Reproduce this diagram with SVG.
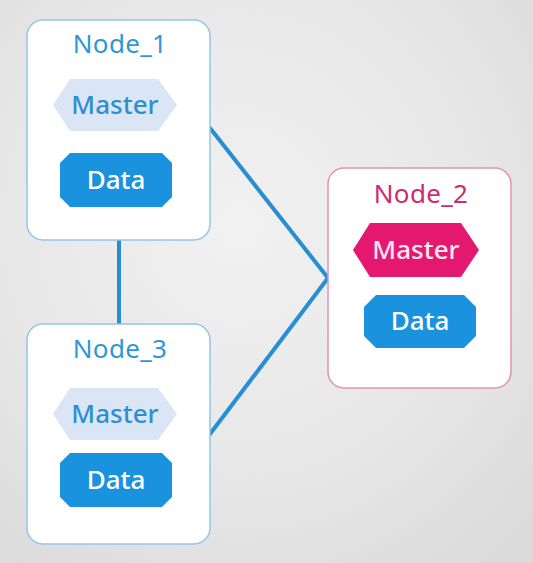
<svg xmlns="http://www.w3.org/2000/svg" width="533" height="563" viewBox="0 0 533 563">
<defs>
<radialGradient id="bg" cx="0.45" cy="0.4" r="0.75">
<stop offset="0" stop-color="#f1f1f1"/>
<stop offset="0.6" stop-color="#e7e7e7"/>
<stop offset="1" stop-color="#dbdbdb"/>
</radialGradient>
<style>
.box{fill:#ffffff;stroke-width:1.5}
.blue{stroke:#93c6e8}
.pink{stroke:#e690b4}
.title{font-family:"Noto Sans","Open Sans",sans-serif;font-size:26px;text-anchor:middle;letter-spacing:0.3px}
.lbl{font-family:"Noto Sans","Open Sans",sans-serif;font-size:26px;font-weight:500;text-anchor:middle}
.data{font-family:"Noto Sans","Open Sans",sans-serif;font-size:26px;font-weight:500;text-anchor:middle;fill:#ffffff}
.conn{stroke:#268fd3;stroke-width:4;fill:none;stroke-linecap:round}
</style>
</defs>
<rect width="533" height="563" fill="url(#bg)"/>
<g id="connectors">
<line class="conn" x1="210" y1="128" x2="328" y2="278"/>
<line class="conn" x1="210" y1="434" x2="328" y2="278"/>
<line class="conn" x1="119" y1="240" x2="119" y2="324"/>
</g>
<g id="node1">
<rect class="box blue" x="27" y="20" width="183" height="220" rx="16"/>
<text class="title" x="120" y="53" fill="#2e97d8">Node_1</text>
<polygon points="53,105 70,79 158,79 177,105 158,131 70,131" fill="#dae6f6"/>
<text class="lbl" x="115" y="114" fill="#2e8fd0">Master</text>
<polygon points="70,153 162,153 172,163 172,197 162,207 70,207 60,197 60,163" fill="#1b92de"/>
<text class="data" x="116" y="189">Data</text>
</g>
<g id="node3">
<rect class="box blue" x="27" y="324" width="183" height="220" rx="16"/>
<text class="title" x="120" y="358" fill="#2e97d8">Node_3</text>
<polygon points="53,414 70,388 158,388 177,414 158,440 70,440 53,414" fill="#dae6f6"/>
<text class="lbl" x="115" y="423" fill="#2e8fd0">Master</text>
<polygon points="70,453 162,453 172,463 172,497 162,507 70,507 60,497 60,463" fill="#1b92de"/>
<text class="data" x="116" y="489">Data</text>
</g>
<g id="node2">
<rect class="box pink" x="328" y="168" width="183" height="220" rx="16"/>
<text class="title" x="421" y="203" fill="#cc2a74">Node_2</text>
<polygon points="353,250 370,223 461,223 479,250 461,277 370,277" fill="#e5186f"/>
<text class="lbl" x="416" y="259" fill="#fde6f0">Master</text>
<polygon points="376,295 464,295 476,307 476,336 464,348 376,348 364,336 364,307" fill="#1b92de"/>
<text class="data" x="420" y="330">Data</text>
</g>
</svg>
